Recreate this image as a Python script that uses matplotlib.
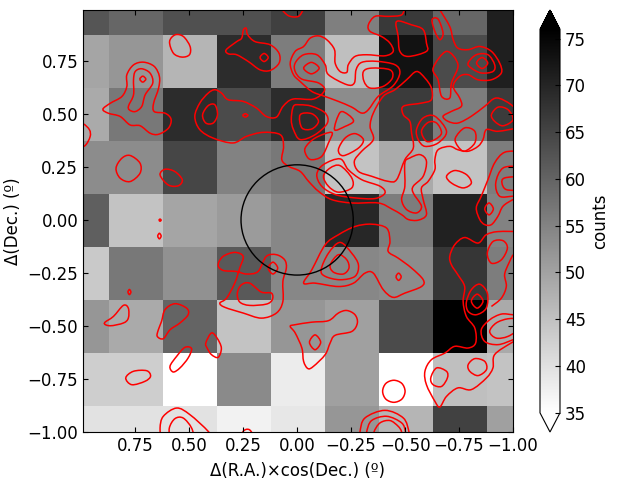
import numpy as np
import matplotlib
matplotlib.use("Agg")
import matplotlib.pyplot as plt
from matplotlib.patches import Circle, PathPatch
from matplotlib.path import Path

# --- Data ---
# counts per cell, top row first, left column first (R.A. runs +1 to -1)
row_p100 = [62.3, 59.6, 63.1, 63.1, 65.7, 55.6, 66.7, 59.6, 70.9]
row_p075 = [49.5, 51.9, 47.0, 68.8, 55.9, 45.4, 72.8, 63.9, 70.9]
row_p050 = [48.7, 56.7, 68.8, 63.9, 68.8, 53.5, 66.4, 55.9, 66.4]
row_p025 = [53.5, 53.5, 64.7, 55.1, 56.7, 44.6, 48.7, 44.6, 55.9]
row_p000 = [60.7, 44.6, 49.5, 51.1, 54.3, 69.6, 55.9, 70.4, 55.1]
row_m025 = [43.8, 56.7, 52.7, 61.5, 54.3, 54.3, 53.5, 67.2, 55.9]
row_m050 = [51.9, 48.7, 59.9, 44.6, 51.9, 50.3, 63.9, 76.0, 48.7]
row_m075 = [43.0, 43.0, 35.0, 53.8, 38.2, 50.3, 35.0, 45.4, 44.6]
row_m100 = [39.8, 39.8, 39.8, 37.1, 39.0, 51.9, 47.0, 65.5, 50.3]
count_rows = [row_p100, row_p075, row_p050, row_p025, row_p000,
              row_m025, row_m050, row_m075, row_m100]

count_ticks = [35, 40, 45, 50, 55, 60, 65, 70, 75]
ra_ticks = [0.75, 0.5, 0.25, 0.0, -0.25, -0.5, -0.75, -1.0]
dec_ticks = [0.75, 0.5, 0.25, 0.0, -0.25, -0.5, -0.75, -1.0]

circle_radius = 0.26

# --- Red contours, (R.A. offset, Dec. offset) ---
long_contour = [
    (-1.023, .434), (-.930, .418), (-.877, .426), (-.861, .379), (-.838, .347), (-.792, .324),
    (-.745, .331), (-.707, .347), (-.653, .331), (-.638, .284), (-.638, .237), (-.607, .182),
    (-.576, .151), (-.584, .096), (-.599, .025), (-.561, -.001), (-.515, .002), (-.484, .025),
    (-.438, .052), (-.376, .080), (-.253, .080), (-.160, .096), (-.099, .135), (-.053, .182),
    (-.014, .229), (.040, .253), (.071, .284), (.063, .347), (.078, .402), (.158, .413),
    (.235, .394), (.297, .363), (.389, .386), (.451, .426), (.474, .488), (.451, .551),
    (.412, .598), (.381, .614), (.350, .598), (.320, .567), (.250, .559), (.189, .528),
    (.143, .488), (.096, .485), (.065, .536), (.019, .570), (-.076, .570), (-.127, .611),
    (-.099, .646), (-.022, .664), (.009, .700), (.009, .740), (-.030, .779), (-.091, .779),
    (-.130, .732), (-.145, .685), (-.230, .638), (-.265, .646), (-.273, .708), (-.299, .743),
    (-.368, .748), (-.453, .732), (-.476, .693), (-.445, .633), (-.376, .583), (-.330, .520),
    (-.299, .504), (-.253, .532), (-.191, .559), (-.127, .583), (-.068, .606), (-.014, .653),
    (.017, .685), (.032, .740), (.009, .795), (-.030, .818), (-.060, .857), (-.099, .868),
    (-.137, .850), (-.173, .803), (-.176, .740), (-.199, .700), (-.230, .696), (-.237, .732),
    (-.268, .771), (-.322, .779), (-.407, .774), (-.445, .795), (-.430, .834), (-.391, .865),
    (-.338, .889), (-.330, .920), (-.361, .960), (-.422, .960), (-.484, .967), (-.499, 1.007),
]
right_network = [
    (-.661, .991), (-.707, .912), (-.723, .850), (-.745, .810), (-.792, .803), (-.846, .818),
    (-.900, .795), (-.938, .740), (-.946, .693), (-.900, .661), (-.838, .661), (-.792, .685),
    (-.753, .677), (-.723, .630), (-.753, .575), (-.761, .536), (-.715, .512), (-.676, .489),
    (-.699, .465), (-.745, .457), (-.807, .489), (-.869, .536), (-.923, .575), (-.992, .543),
    (-1.04, .489),
]
top_arc = [(.078, 1.0), (.040, .963), (-.006, .960), (-.030, .995)]
left_arc = [(1.02, .456), (.990, .453), (.962, .425), (.959, .393), (.982, .351), (1.02, .338)]
right_outer = [
    (-1.038, .324), (-.961, .319), (-.915, .269), (-.884, .190), (-.853, .112), (-.830, .057),
    (-.846, .002), (-.869, -.022), (-.900, -.022), (-.930, .017), (-.954, .065), (-1.0, .096),
    (-1.038, .112),
]
right_middle = [(-1.038, .253), (-.954, .245), (-.920, .174), (-.938, .112), (-1.0, .112), (-1.038, .112)]
right_inner = [(-1.038, .206), (-.961, .198), (-.949, .174), (-.969, .143), (-1.038, .140)]
lower_right = [
    (-1.038, -.055), (-.930, -.055), (-.876, -.070), (-.838, -.109), (-.776, -.083), (-.730, -.117),
    (-.707, -.172), (-.715, -.212), (-.745, -.259), (-.776, -.314), (-.769, -.384), (-.784, -.455),
    (-.823, -.510), (-.827, -.580), (-.792, -.604), (-.730, -.596), (-.684, -.628), (-.622, -.659),
    (-.592, -.714), (-.599, -.777), (-.638, -.855), (-.661, -.882), (-.692, -.832), (-.745, -.792),
    (-.807, -.800), (-.877, -.745), (-.907, -.698), (-.915, -.635), (-.992, -.580), (-1.038, -.557),
]
edge_strand = [(-1.0, -.164), (-.977, -.212), (-.961, -.259), (-.969, -.314), (-.946, -.369), (-.900, -.408)]
edge_ring_outer = [
    (-1.038, -.447), (-1.0, -.447), (-.946, -.444), (-.892, -.471), (-.853, -.518), (-.869, -.573),
    (-.931, -.588), (-1.0, -.565), (-1.038, -.549),
]
edge_ring_inner = [
    (-1.038, -.466), (-.977, -.466), (-.922, -.486), (-.892, -.526), (-.922, -.557), (-.977, -.549),
    (-1.038, -.510),
]
bottom_a = [(.628, -1.04), (.635, -.981), (.620, -.926), (.558, -.887), (.497, -.918), (.412, -.997), (.389, -1.04)]
bottom_b = [(.589, -1.04), (.592, -.981), (.566, -.937), (.528, -.934), (.489, -.981), (.474, -1.04)]
bottom_c = [(.258, -1.04), (.250, -.997), (.220, -.990), (.189, -1.04)]
bottom_ring_a = [(-.291, -1.04), (-.291, -1.0), (-.314, -.934), (-.407, -.898), (-.492, -.934), (-.518, -1.0), (-.518, -1.04)]
bottom_ring_b = [(-.322, -1.04), (-.322, -1.0), (-.345, -.946), (-.415, -.926), (-.484, -.957), (-.502, -1.0), (-.502, -1.04)]
bottom_ring_c = [(-.356, -1.04), (-.356, -1.0), (-.384, -.957), (-.430, -.946), (-.468, -.973), (-.484, -1.0), (-.484, -1.04)]

open_contours = [long_contour, right_network, top_arc, left_arc, right_outer, right_middle,
                 right_inner, lower_right, edge_strand, edge_ring_outer, edge_ring_inner,
                 bottom_a, bottom_b, bottom_c, bottom_ring_a, bottom_ring_b, bottom_ring_c]

left_blob = [
    (.90, .522), (.866, .55), (.812, .582), (.789, .629), (.789, .684), (.758, .731), (.712, .744),
    (.662, .724), (.638, .676), (.642, .621), (.665, .55), (.662, .511), (.611, .503), (.584, .475),
    (.596, .433), (.642, .404), (.681, .409), (.727, .444), (.774, .448), (.82, .488), (.874, .503),
]
left_blob_inner = [
    (.781, .538), (.758, .590), (.758, .661), (.750, .700), (.720, .713), (.681, .692), (.669, .645),
    (.704, .590), (.720, .535), (.750, .511), (.777, .519),
]
left_blob_core = [(.729, .664), (.715, .678), (.701, .664), (.715, .65)]
top_oval = [(.591, .841), (.565, .873), (.527, .865), (.496, .818), (.499, .779), (.534, .768), (.573, .786)]
spike_blob = [
    (.329, .802), (.280, .841), (.257, .857), (.249, .896), (.236, .904), (.229, .873), (.195, .841),
    (.125, .826), (.084, .786), (.084, .739), (.125, .705), (.172, .708), (.226, .747), (.280, .779),
    (.318, .783),
]
spike_core = [(.172, .766), (.153, .785), (.134, .766), (.153, .747)]
dark_oval = [(.438, .496), (.412, .539), (.381, .543), (.369, .496), (.389, .457), (.423, .457)]
tiny_dot_a = [(.252, .493), (.240, .501), (.228, .493), (.240, .485)]
round_a = [(.839, .244), (.812, .291), (.774, .304), (.728, .268), (.728, .220), (.774, .181), (.820, .197)]
round_b = [(.635, .212), (.612, .239), (.566, .228), (.532, .189), (.551, .161), (.597, .165)]
dark_cell_outer = [
    (-.014, .543), (-.068, .536), (-.130, .504), (-.140, .457), (-.083, .402), (-.014, .379),
    (.017, .426), (.027, .473), (.017, .536),
]
dark_cell_inner = [(-.014, .496), (-.068, .501), (-.099, .465), (-.068, .429), (-.022, .434)]
triangle = [(-.173, .426), (-.199, .507), (-.237, .496), (-.261, .465), (-.222, .441)]
wedge = [(-.037, .339), (-.083, .386), (-.160, .413), (-.145, .363), (-.114, .300), (-.068, .284), (-.045, .300)]
wedge_oval = [(-.191, .331), (-.222, .386), (-.268, .407), (-.307, .379), (-.284, .339), (-.214, .303)]
pale_ring_outer = [
    (-.091, .214), (-.122, .261), (-.199, .288), (-.237, .237), (-.299, .190), (-.384, .159),
    (-.407, .127), (-.361, .101), (-.268, .104), (-.176, .120), (-.114, .159),
]
pale_ring_inner = [(-.122, .206), (-.153, .245), (-.199, .256), (-.253, .198), (-.253, .151), (-.191, .131), (-.145, .159)]
lobe_inner = [(-.307, .700), (-.345, .716), (-.430, .708), (-.441, .669), (-.399, .630), (-.338, .622), (-.310, .653)]
mid_oval_core = [(-.030, .716), (-.066, .743), (-.102, .716), (-.066, .689)]
box_blob = [(-.461, .936), (-.530, .920), (-.584, .897), (-.599, .834), (-.599, .795), (-.515, .771), (-.476, .795), (-.468, .865)]
thin_oval = [(-.625, .944), (-.653, .947), (-.676, .881), (-.661, .850), (-.638, .889)]
diamond = [(-.630, .716), (-.692, .795), (-.745, .732), (-.715, .645), (-.707, .575), (-.669, .583), (-.653, .661)]
ring_top_mid = [(-.792, .740), (-.830, .779), (-.884, .779), (-.915, .732), (-.907, .700), (-.853, .693), (-.807, .716)]
ring_top_core = [(-.831, .740), (-.857, .766), (-.883, .740), (-.857, .714)]
centre_loop = [
    (-.553, .700), (-.592, .669), (-.622, .622), (-.622, .567), (-.576, .551), (-.492, .536),
    (-.492, .496), (-.522, .465), (-.530, .410), (-.538, .339), (-.499, .284), (-.461, .190),
    (-.422, .182), (-.345, .206), (-.284, .229), (-.265, .277), (-.299, .324), (-.353, .379),
    (-.338, .441), (-.353, .504), (-.399, .583), (-.453, .614), (-.507, .661),
]
ring_mid_outer = [(-.553, .426), (-.584, .481), (-.638, .489), (-.692, .418), (-.653, .363), (-.592, .347), (-.561, .379)]
ring_mid_inner = [(-.576, .418), (-.607, .460), (-.646, .457), (-.669, .410), (-.638, .379), (-.599, .371)]
side_oval = [(-.733, .386), (-.776, .434), (-.823, .418), (-.823, .363), (-.776, .324), (-.745, .347)]
peanut = [
    (-.499, .269), (-.522, .292), (-.569, .308), (-.599, .277), (-.584, .206), (-.538, .159),
    (-.538, .127), (-.576, .065), (-.553, .033), (-.507, .049), (-.484, .096), (-.499, .159),
]
pale_oval = [(-.692, .206), (-.730, .233), (-.784, .214), (-.807, .174), (-.769, .151), (-.715, .174)]
edge_oval = [(-.900, .496), (-.931, .532), (-.977, .520), (-1.0, .473), (-.954, .444), (-.915, .465)]
small_circle = [(-.869, .052), (-.889, .080), (-.909, .052), (-.889, .024)]
speck_a = [(.640, -.001), (.635, .004), (.630, -.001), (.635, -.006)]
speck_b = [(.646, -.076), (.638, -.063), (.630, -.076), (.638, -.089)]
speck_c = [(.784, -.340), (.777, -.328), (.770, -.340), (.777, -.352)]
low_a = [(.893, -.486), (.851, -.455), (.805, -.403), (.782, -.416), (.782, -.463), (.805, -.486), (.866, -.499)]
low_b = [(.628, -.478), (.612, -.423), (.566, -.395), (.512, -.416), (.505, -.447), (.543, -.486), (.589, -.518), (.620, -.560), (.648, -.549), (.643, -.518)]
low_c = [(.423, -.580), (.397, -.533), (.371, -.557), (.351, -.604), (.366, -.648), (.397, -.635), (.417, -.604)]
low_d = [(.589, -.690), (.558, -.643), (.520, -.601), (.489, -.607), (.505, -.651), (.543, -.698), (.574, -.717)]
low_e = [(.794, -.745), (.759, -.714), (.697, -.711), (.679, -.737), (.705, -.761), (.766, -.777)]
centre_low = [
    (.366, -.212), (.343, -.172), (.289, -.153), (.250, -.172), (.266, -.227), (.289, -.298),
    (.327, -.369), (.358, -.392), (.335, -.412), (.250, -.439), (.166, -.463), (.096, -.439),
    (.066, -.384), (.066, -.290), (.050, -.227), (.058, -.188), (.096, -.164), (.143, -.172),
    (.181, -.243), (.235, -.255), (.281, -.243), (.343, -.238),
]
centre_low_inner = [(.277, -.345), (.258, -.306), (.220, -.298), (.166, -.340), (.119, -.345), (.115, -.376), (.143, -.397), (.220, -.403), (.266, -.387)]
centre_low_core = [(.134, -.227), (.112, -.199), (.090, -.227), (.112, -.255)]
south_blob = [
    (.009, -.494), (-.068, -.482), (-.145, -.475), (-.191, -.439), (-.230, -.427), (-.268, -.447),
    (-.279, -.486), (-.253, -.526), (-.176, -.544), (-.153, -.580), (-.130, -.635), (-.076, -.690),
    (-.050, -.701), (-.030, -.667), (-.022, -.604), (.009, -.533), (.032, -.502),
]
south_core = [(-.057, -.577), (-.083, -.542), (-.109, -.577), (-.083, -.612)]
arm_outer = [
    (-.030, -.298), (-.068, -.235), (-.130, -.117), (-.191, -.070), (-.268, -.031), (-.345, -.020),
    (-.415, -.039), (-.430, -.102), (-.422, -.149), (-.468, -.180), (-.530, -.227), (-.584, -.282),
    (-.576, -.314), (-.499, -.345), (-.445, -.365), (-.399, -.329), (-.353, -.251), (-.314, -.251),
    (-.261, -.298), (-.191, -.314), (-.083, -.298),
]
arm_middle = [(-.111, -.235), (-.145, -.157), (-.199, -.106), (-.253, -.157), (-.284, -.212), (-.268, -.266), (-.199, -.282), (-.130, -.266)]
arm_inner = [(-.153, -.212), (-.191, -.164), (-.230, -.188), (-.240, -.227), (-.214, -.255), (-.168, -.246)]
arm_speck = [(-.458, -.268), (-.470, -.251), (-.482, -.268), (-.470, -.285)]
edge_oval_low = [(-.881, -.157), (-.907, -.102), (-.954, -.098), (-.974, -.133), (-.946, -.188), (-.900, -.204)]
ring_low_outer = [(-.784, -.387), (-.807, -.329), (-.846, -.303), (-.881, -.345), (-.876, -.416), (-.830, -.447), (-.792, -.431)]
ring_low_core = [(-.807, -.383), (-.834, -.350), (-.861, -.383), (-.834, -.416)]
pale_oval_low = [(-.792, -.683), (-.823, -.654), (-.869, -.667), (-.877, -.706), (-.838, -.734), (-.800, -.714)]
pale_oval_left = [(-.619, -.745), (-.646, -.698), (-.692, -.714), (-.696, -.745), (-.669, -.785), (-.630, -.777)]
white_circle = [(-.396, -.808), (-.411, -.771), (-.448, -.756), (-.485, -.771), (-.500, -.808), (-.485, -.845), (-.448, -.860), (-.411, -.845)]

closed_contours = [
    left_blob, left_blob_inner, left_blob_core, top_oval, spike_blob, spike_core, dark_oval,
    tiny_dot_a, round_a, round_b, dark_cell_outer, dark_cell_inner, triangle, wedge, wedge_oval,
    pale_ring_outer, pale_ring_inner, lobe_inner, mid_oval_core, box_blob, thin_oval, diamond,
    ring_top_mid, ring_top_core, centre_loop, ring_mid_outer, ring_mid_inner, side_oval, peanut,
    pale_oval, edge_oval, small_circle, speck_a, speck_b, speck_c, low_a, low_b, low_c, low_d,
    low_e, centre_low, centre_low_inner, centre_low_core, south_blob, south_core, arm_outer,
    arm_middle, arm_inner, arm_speck, edge_oval_low, ring_low_outer, ring_low_core,
    pale_oval_low, pale_oval_left, white_circle,
]


def _curve_path(points, closed):
    """Smooth Bezier path that passes through every traced vertex."""
    pts = np.array(points, dtype=float)
    if closed:
        pts = np.vstack([pts, pts[:1]])
        before = np.vstack([pts[-2:-1], pts[:-1]])
        after = np.vstack([pts[1:], pts[1:2]])
    else:
        before = np.vstack([pts[:1], pts[:-1]])
        after = np.vstack([pts[1:], pts[-1:]])
    tangents = (after - before) / 6
    verts = [pts[0]]
    codes = [Path.MOVETO]
    for i in range(len(pts) - 1):
        verts += [pts[i] + tangents[i], pts[i + 1] - tangents[i + 1], pts[i + 1]]
        codes += [Path.CURVE4, Path.CURVE4, Path.CURVE4]
    return Path(verts, codes)


plt.rcParams["font.size"] = 12
fig = plt.figure(figsize=(6.4, 4.8), dpi=100)
ax = fig.add_axes([83 / 640, 48 / 480, 430 / 640, 422 / 480])

# cell centres run from +1 to -1 in steps of 0.25, with a small offset seen in the picture
im = ax.imshow(np.array(count_rows), cmap="gray_r", vmin=35, vmax=76, aspect="auto",
               extent=(1.121, -1.129, -1.128, 1.122), interpolation="nearest")

for pts in open_contours:
    ax.add_patch(PathPatch(_curve_path(pts, False), fill=False, edgecolor="red", lw=1.1))
for pts in closed_contours:
    ax.add_patch(PathPatch(_curve_path(pts, True), fill=False, edgecolor="red", lw=1.1))

ax.add_patch(Circle((0, 0), circle_radius, fill=False, edgecolor="black", lw=1.0))

ax.set_xlim(0.992, -1.0)
ax.set_ylim(-1.0, 0.99)
ax.set_xticks(ra_ticks)
ax.set_yticks(dec_ticks)
ax.xaxis.set_major_formatter("{x:.2f}")
ax.yaxis.set_major_formatter("{x:.2f}")
ax.tick_params(direction="in", top=True, right=True, labelsize=12)
ax.set_xlabel("Δ(R.A.)×cos(Dec.) (º)", fontsize=12, labelpad=5)
ax.set_ylabel("Δ(Dec.) (º)", fontsize=12)

cax = fig.add_axes([540 / 640, 48 / 480, 20 / 640, 422 / 480])
cbar = fig.colorbar(im, cax=cax, extend="both", ticks=count_ticks)
cbar.ax.tick_params(direction="in", labelsize=12)
cbar.set_label("counts", fontsize=12)

fig.savefig("out.png", dpi=100)
